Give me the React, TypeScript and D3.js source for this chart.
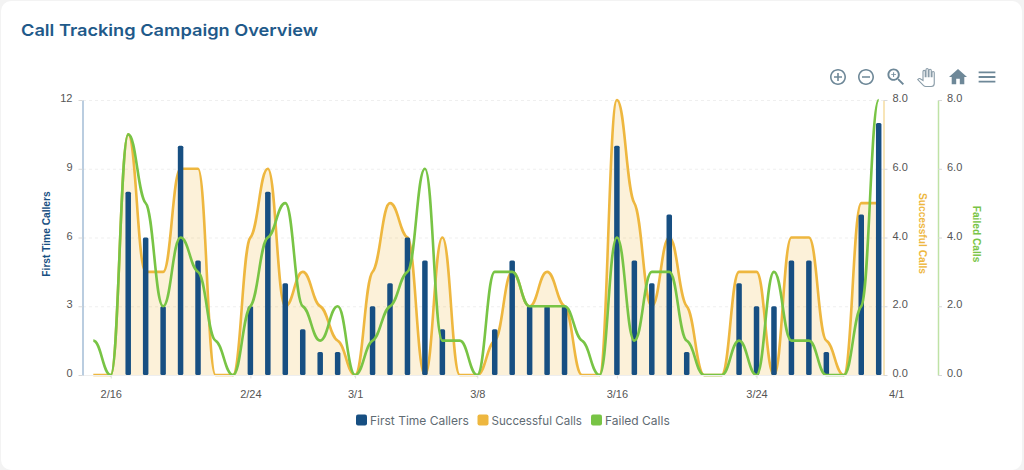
import * as d3 from 'd3';
import { useEffect, useRef } from 'react';

const dates = ['2/15', '2/16', '2/17', '2/18', '2/19', '2/20', '2/21', '2/22', '2/23', '2/24', '2/25', '2/26', '2/27', '2/28', '2/29',
    '3/1', '3/2', '3/3', '3/4', '3/5', '3/6', '3/7', '3/8', '3/9', '3/10', '3/11', '3/12', '3/13', '3/14', '3/15',
    '3/16', '3/17', '3/18', '3/19', '3/20', '3/21', '3/22', '3/23', '3/24', '3/25', '3/26', '3/27', '3/28', '3/29', '3/30', '3/31', '4/1'];
const dateLabels = ['2/16', '2/24', '3/1', '3/8', '3/16', '3/24', '4/1'];

const firstTimeCallers = [0, 0, 8, 6, 3, 10, 5, 0, 0, 3, 8, 4, 2, 1, 1, 0, 3, 4, 6, 5, 2, 0, 0, 2, 5, 3, 3, 3, 0, 0, 10, 5, 4, 7, 1, 0, 0, 4, 3, 3, 5, 5, 1, 0, 7, 11];
const successfulCalls = [0, 0, 7, 3, 3, 6, 6, 0, 0, 4, 6, 2, 3, 2, 1, 0, 3, 5, 4, 0, 4, 0, 0, 1, 3, 2, 3, 2, 0, 0, 8, 5, 2, 4, 2, 0, 0, 3, 3, 0, 4, 4, 1, 0, 5, 5];
const failedCalls = [1, 0, 7, 5, 2, 4, 3, 1, 0, 2, 4, 5, 2, 1, 2, 0, 1, 2, 3, 6, 1, 1, 0, 3, 3, 2, 2, 2, 1, 0, 4, 1, 3, 3, 1, 0, 0, 1, 0, 3, 1, 1, 0, 0, 2, 8];

const leftTicks = [0, 3, 6, 9, 12];
const rightTicks = [0, 2, 4, 6, 8];

const BLUE = '#174f82';
const ORANGE = '#eeb73f';
const GREEN = '#78c445';
const TICK_TEXT = '#555';

const legendItems = [
    { name: 'First Time Callers', color: BLUE, x: 356 },
    { name: 'Successful Calls', color: ORANGE, x: 477.5 },
    { name: 'Failed Calls', color: GREEN, x: 591 }
];

const icons = [
    { x: 838, s: 0.8, d: 'M13 7h-2v4H7v2h4v4h2v-4h4v-2h-4V7zm-1-5C6.48 2 2 6.48 2 12s4.48 10 10 10 10-4.48 10-10S17.52 2 12 2zm0 18c-4.41 0-8-3.59-8-8s3.59-8 8-8 8 3.59 8 8-3.59 8-8 8z' },
    { x: 866, s: 0.8, d: 'M7 11v2h10v-2H7zm5-9C6.48 2 2 6.48 2 12s4.48 10 10 10 10-4.48 10-10S17.52 2 12 2zm0 18c-4.41 0-8-3.59-8-8s3.59-8 8-8 8 3.59 8 8-3.59 8-8 8z' },
    { x: 896, s: 0.95, d: 'M15.5 14h-.79l-.28-.27C15.41 12.59 16 11.11 16 9.5 16 5.91 13.09 3 9.5 3S3 5.91 3 9.5 5.91 16 9.5 16c1.61 0 3.09-.59 4.23-1.57l.27.28v.79l5 4.99L20.49 19l-4.99-5zm-6 0C7.01 14 5 11.99 5 9.5S7.01 5 9.5 5 14 7.01 14 9.5 11.99 14 9.5 14zM12 10h-2v2H9v-2H7V9h2V7h1v2h2v1z' },
    { x: 958, s: 0.9, d: 'M10 20v-6h4v6h5v-8h3L12 3 2 12h3v8z' },
    { x: 987, s: 0.93, d: 'M3 18h18v-2H3v2zm0-5h18v-2H3v2zm0-7v2h18V6H3z' }
];
const HAND = 'M23 5.5V20c0 2.2-1.8 4-4 4h-7.3c-1.08 0-2.1-.43-2.85-1.19L1 14.83s1.26-1.23 1.3-1.25c.22-.19.49-.29.79-.29.22 0 .42.06.6.16.04.01 4.31 2.46 4.31 2.46V4c0-.83.67-1.5 1.5-1.5S11 3.17 11 4v7h1V1.5c0-.83.67-1.5 1.5-1.5S15 .67 15 1.5V11h1V2.5c0-.83.67-1.5 1.5-1.5s1.5.67 1.5 1.5V11h1V5.5c0-.83.67-1.5 1.5-1.5s1.5.67 1.5 1.5z';

// like curveBumpX, but shoulders keep a little of their slope instead of going flat
class SoftBump {
    constructor(context) {
        this._c = context;
    }
    areaStart() { this._line = 0; }
    areaEnd() { this._line = NaN; }
    lineStart() { this._x = []; this._y = []; }
    point(x, y) { this._x.push(+x); this._y.push(+y); }
    lineEnd() {
        const xs = this._x, ys = this._y, n = xs.length;
        if (n) {
            if (this._line) this._c.lineTo(xs[0], ys[0]);
            else this._c.moveTo(xs[0], ys[0]);
            const slope = i => {
                if (i === 0 || i === n - 1) return 0;
                const a = (ys[i] - ys[i - 1]) / (xs[i] - xs[i - 1]);
                const b = (ys[i + 1] - ys[i]) / (xs[i + 1] - xs[i]);
                if (a * b <= 0) return 0;
                return Math.sign(a) * Math.min(Math.abs(a), Math.abs(b)) * 0.25;
            };
            for (let i = 0; i < n - 1; i++) {
                const h = (xs[i + 1] - xs[i]) * 0.45;
                this._c.bezierCurveTo(
                    xs[i] + h, ys[i] + slope(i) * h,
                    xs[i + 1] - h, ys[i + 1] - slope(i + 1) * h,
                    xs[i + 1], ys[i + 1]);
            }
        }
        if (this._line || (this._line !== 0 && n === 1)) this._c.closePath();
        this._line = 1 - this._line;
    }
}
const softBump = context => new SoftBump(context);

export default function App() {
    const ref = useRef<SVGSVGElement>(null);

    useEffect(() => {
        const svg = d3.select(ref.current).html('');

        const x = d3.scaleLinear().domain([0, 45]).range([93.3, 878.7]);
        const yLeft = d3.scaleLinear().domain([0, 12]).range([375, 100]);
        const yRight = d3.scaleLinear().domain([0, 8]).range([375, 100]);
        const sans = 'Liberation Sans, Arial, sans-serif';
        const round = 'Inter, Noto Sans, sans-serif';

        // card
        svg.append('rect').attr('width', 1024).attr('height', 470).attr('fill', '#f3f3f3');
        svg.append('rect').attr('x', 1).attr('y', 1).attr('width', 1021).attr('height', 469).attr('rx', 10).attr('fill', '#fff');

        svg.append('text').attr('x', 21).attr('y', 35.5).text('Call Tracking Campaign Overview')
            .attr('font-family', round).attr('font-size', 16.5).attr('font-weight', 600).attr('fill', '#1f5a8a')
            .attr('textLength', 297).attr('lengthAdjust', 'spacingAndGlyphs');

        // toolbar
        const iconColor = '#6e8898';
        icons.forEach(ic => {
            svg.append('path').attr('d', ic.d).attr('fill', iconColor)
                .attr('transform', `translate(${ic.x - 12 * ic.s},${77 - 12 * ic.s}) scale(${ic.s})`);
        });
        svg.append('path').attr('d', HAND).attr('fill', '#fff').attr('stroke', '#8a9ca8').attr('stroke-width', 1.5)
            .attr('transform', 'translate(917,68.5) scale(0.75)');

        // grid
        svg.append('g').selectAll('line').data(leftTicks.filter(d => d > 0)).enter().append('line')
            .attr('x1', 83).attr('x2', 883)
            .attr('y1', d => yLeft(d) + 0.5).attr('y2', d => yLeft(d) + 0.5)
            .attr('stroke', '#efefef').attr('stroke-dasharray', '3 3');

        const area = d3.area<number>()
            .x((d, i) => x(i)).y0(yRight(0)).y1(d => yRight(d))
            .curve(softBump);
        const line = d3.line<number>()
            .x((d, i) => x(i)).y(d => yRight(d))
            .curve(softBump);

        svg.append('path').datum(successfulCalls).attr('d', area).attr('fill', ORANGE).attr('fill-opacity', 0.2);
        svg.append('path').datum(successfulCalls).attr('d', line).attr('fill', 'none')
            .attr('stroke', ORANGE).attr('stroke-width', 2.6);

        // bars
        const bars = firstTimeCallers.map((v, i) => ({ v, i })).filter(d => d.v > 0);
        svg.append('g').selectAll('rect').data(bars).enter().append('rect')
            .attr('x', d => x(d.i) - 2.75)
            .attr('width', 5.5)
            .attr('y', d => yLeft(d.v))
            .attr('height', d => yLeft(0) - yLeft(d.v))
            .attr('rx', 1.5)
            .attr('fill', BLUE);

        svg.append('path').datum(failedCalls).attr('d', line).attr('fill', 'none')
            .attr('stroke', GREEN).attr('stroke-width', 2.6);

        // x axis
        const xAxis = d3.axisBottom(x)
            .tickValues(dateLabels.map(d => dates.indexOf(d)))
            .tickFormat(d => dates[d as number])
            .tickSize(3)
            .tickPadding(12);
        const gx = svg.append('g').attr('transform', 'translate(0,375.5)').call(xAxis);
        gx.select('.domain').attr('d', 'M83,0H883').attr('stroke', '#eeeeee');
        gx.selectAll('.tick line').attr('stroke', '#dddddd');
        gx.selectAll('text').attr('font-family', sans).attr('font-size', 11).attr('fill', TICK_TEXT);

        // y axes
        const styleY = (g, color) => {
            g.select('.domain').attr('stroke', color).attr('stroke-width', 1.5);
            g.selectAll('.tick line').attr('stroke', '#d8d8d8');
            g.selectAll('text').attr('font-family', sans).attr('font-size', 11).attr('fill', TICK_TEXT).attr('dy', '0.15em');
        };
        const gl = svg.append('g').attr('transform', 'translate(82.5,0)')
            .call(d3.axisLeft(yLeft).tickValues(leftTicks).tickSize(4).tickSizeOuter(0).tickPadding(6));
        styleY(gl, '#a3bdd6');
        const gr1 = svg.append('g').attr('transform', 'translate(883.5,0)')
            .call(d3.axisRight(yRight).tickValues(rightTicks).tickFormat(d3.format('.1f')).tickSize(4).tickSizeOuter(0).tickPadding(5));
        styleY(gr1, '#f6dca0');
        const gr2 = svg.append('g').attr('transform', 'translate(938,0)')
            .call(d3.axisRight(yRight).tickValues(rightTicks).tickFormat(d3.format('.1f')).tickSize(4).tickSizeOuter(0).tickPadding(5));
        styleY(gr2, '#bfe2a6');

        const axisTitle = (tx, ty, rot, label, color) => {
            svg.append('text').attr('transform', `translate(${tx},${ty}) rotate(${rot})`)
                .attr('text-anchor', 'middle').attr('font-family', sans).attr('font-size', 10.2)
                .attr('font-weight', 700).attr('fill', color).text(label);
        };
        axisTitle(49.5, 234, -90, 'First Time Callers', BLUE);
        axisTitle(919, 233.5, 90, 'Successful Calls', ORANGE);
        axisTitle(973, 234, 90, 'Failed Calls', GREEN);

        // legend
        legendItems.forEach(it => {
            svg.append('rect').attr('x', it.x).attr('y', 414.5).attr('width', 11).attr('height', 11).attr('rx', 2).attr('fill', it.color);
            svg.append('text').attr('x', it.x + 14).attr('y', 424.5).text(it.name)
                .attr('font-family', round).attr('font-size', it.name === 'Successful Calls' ? 11.6 : 12).attr('fill', '#5f6b73');
        });
    }, []);

    return <svg ref={ref} width={1024} height={470} style={{ position: 'fixed', left: 0, top: 0 }} />;
}
